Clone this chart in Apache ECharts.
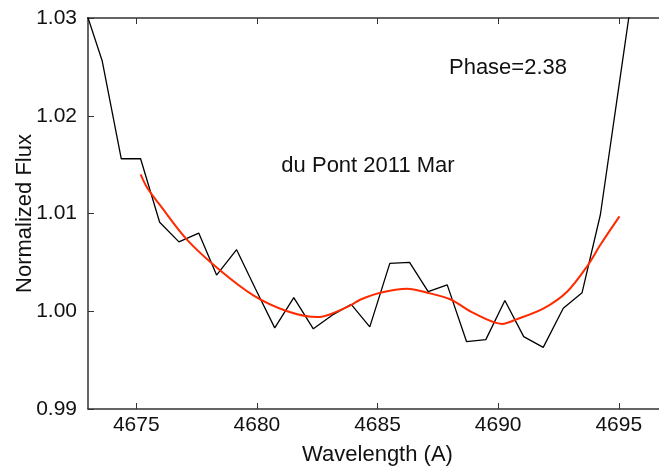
<!DOCTYPE html>
<html>
<head>
<meta charset="utf-8">
<script src="https://cdn.jsdelivr.net/npm/echarts@6/dist/echarts.min.js"></script>
<style>html,body{margin:0;padding:0;background:#fff;}#chart{width:659px;height:471px;}</style>
</head>
<body>
<div id="chart"></div>
<script>
// Observed spectrum (black)
const wavelength = [4672.79, 4673.59, 4674.38, 4675.18, 4675.97, 4676.77, 4677.59, 4678.33, 4679.16, 4679.94,
  4680.74, 4681.53, 4682.34, 4683.12, 4683.91, 4684.68, 4685.51, 4686.33, 4687.10, 4687.89,
  4688.69, 4689.49, 4690.28, 4691.06, 4691.87, 4692.70, 4693.48, 4694.24, 4695.04, 4695.84];
const flux = [1.0316, 1.0256, 1.0156, 1.0156, 1.0091, 1.0071, 1.0080, 1.0037, 1.0063, 1.0023,
  0.9983, 1.0014, 0.9982, 0.9996, 1.0007, 0.9984, 1.0049, 1.0050, 1.0020, 1.0027,
  0.9969, 0.9971, 1.0011, 0.9974, 0.9963, 1.0003, 1.0019, 1.0099, 1.0236, 1.0373];
// Fitted curve (red)
const fitWavelength = [4675.18, 4675.46, 4675.97, 4677.11, 4678.42, 4679.87, 4681.26, 4682.50, 4683.05, 4683.88,
  4684.30, 4685.12, 4686.23, 4687.06, 4688.03, 4688.99, 4690.17, 4690.79, 4691.89, 4692.86,
  4693.69, 4694.24, 4695.03];
const fitFlux = [1.0140, 1.0126, 1.0109, 1.0073, 1.0043, 1.0016, 1.0000, 0.9994, 0.9997, 1.0006,
  1.0012, 1.0019, 1.0023, 1.0019, 1.0012, 0.9998, 0.9987, 0.9992, 1.0003, 1.0020,
  1.0046, 1.0068, 1.0097];
// Ticks
const xTicks = [4675, 4680, 4685, 4690, 4695];
const yTicks = [0.99, 1.00, 1.01, 1.02, 1.03];
const annotations = ['Phase=2.38', 'du Pont 2011 Mar'];

const FONT = 'Liberation Sans, Arial, Helvetica, sans-serif';
const axisLineStyle = {color: '#333', width: 1.5};
const tickStyle = {color: '#333', width: 1};

const chart = echarts.init(document.getElementById('chart'), null, {renderer: 'canvas'});
const option = {
  backgroundColor: '#fff',
  animation: false,
  grid: {left: 88, top: 18, right: -8, bottom: 62, containLabel: false, outerBoundsMode: 'none'},
  xAxis: [{
    type: 'value', min: 4673, max: 4697, position: 'bottom',
    axisLine: {show: true, onZero: false, lineStyle: axisLineStyle},
    axisTick: {show: true, inside: true, length: 6, customValues: xTicks, lineStyle: tickStyle},
    axisLabel: {show: true, customValues: xTicks, fontFamily: FONT, fontSize: 21, color: '#111', margin: 6,
      formatter: v => String(Math.round(v))},
    splitLine: {show: false},
    name: 'Wavelength (A)', nameLocation: 'middle', nameGap: 35, nameMoveOverlap: false,
    nameTextStyle: {fontFamily: FONT, fontSize: 22, color: '#111'}
  }, {
    type: 'value', min: 4673, max: 4697, position: 'top',
    axisLine: {show: true, onZero: false, lineStyle: axisLineStyle},
    axisTick: {show: true, inside: true, length: 6, customValues: xTicks, lineStyle: tickStyle},
    axisLabel: {show: false},
    splitLine: {show: false}
  }],
  yAxis: [{
    type: 'value', min: 0.99, max: 1.03, interval: 0.01, position: 'left',
    axisLine: {show: true, onZero: false, lineStyle: axisLineStyle},
    axisTick: {show: true, inside: true, length: 6, customValues: yTicks, lineStyle: tickStyle},
    axisLabel: {show: true, customValues: yTicks, fontFamily: FONT, fontSize: 21, color: '#111', margin: 11,
      formatter: v => Number(v).toFixed(2)},
    splitLine: {show: false},
    name: 'Normalized Flux', nameLocation: 'middle', nameGap: 52, nameRotate: 90, nameMoveOverlap: false,
    nameTextStyle: {fontFamily: FONT, fontSize: 22, color: '#111'}
  }],
  series: [{
    type: 'line', xAxisIndex: 0, yAxisIndex: 0,
    data: wavelength.map((w, i) => [w, flux[i]]),
    symbol: 'none', showSymbol: false, clip: true,
    lineStyle: {color: '#000', width: 1.3}
  }, {
    type: 'line', xAxisIndex: 0, yAxisIndex: 0,
    data: fitWavelength.map((w, i) => [w, fitFlux[i]]),
    symbol: 'none', showSymbol: false, smooth: 0.3, clip: true,
    lineStyle: {color: '#ff2a00', width: 2}
  }],
  graphic: [{
    type: 'text', x: 508, y: 67.5,
    style: {text: annotations[0], font: '22px ' + FONT, fill: '#111', textAlign: 'center', textVerticalAlign: 'middle'}
  }, {
    type: 'text', x: 368, y: 165.5,
    style: {text: annotations[1], font: '22px ' + FONT, fill: '#111', textAlign: 'center', textVerticalAlign: 'middle'}
  }]
};
chart.setOption(option);
</script>
</body>
</html>
